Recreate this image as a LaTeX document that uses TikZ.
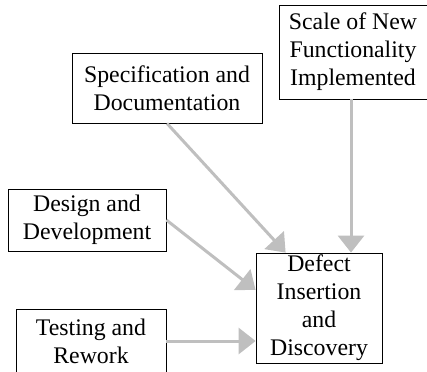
\documentclass[tikz,border=0pt]{standalone}
\usepackage{fontspec}
\setmainfont{Liberation Serif}
\usetikzlibrary{arrows.meta,positioning}
\tikzset{
	box/.style={draw, line width=0.8pt, rectangle, align=center, inner sep=0, font=\fontsize{23.8}{28}\selectfont},
	flow/.style={draw=black!25, line width=3pt, -{Triangle[width=26pt,length=17pt]}}
}
\begin{document}
\begin{tikzpicture}[x=1pt, y=-1pt]
		\useasboundingbox (0,0) rectangle (427,371);
		\node (scale) at (353,52) [box, minimum width=148pt, minimum height=94pt] {Scale of New\\Functionality\\Implemented};
		\node (spec) at (167,88) [box, minimum width=190pt, minimum height=70pt] {Specification and\\Documentation};
		\node (design) at (87,220) [box, minimum width=158pt, minimum height=62pt] {Design and\\Development};
		\node (test) at (91,341) [box, minimum width=150pt, minimum height=64pt] {Testing and\\Rework};
		\node (defect) at (319,308) [box, minimum width=126pt, minimum height=110pt] {Defect\\Insertion\\and\\Discovery};
		\draw[flow] (spec.south) -- ([xshift=30pt]defect.north west);
		\draw[flow] ([xshift=-2pt]scale.south) -- ([xshift=-2pt]scale.south |- defect.north);
		\draw[flow] (design.east) -- ([yshift=18pt]defect.west);
		\draw[flow] (test.east) -- (test.east -| defect.west);
	\end{tikzpicture}
\end{document}
